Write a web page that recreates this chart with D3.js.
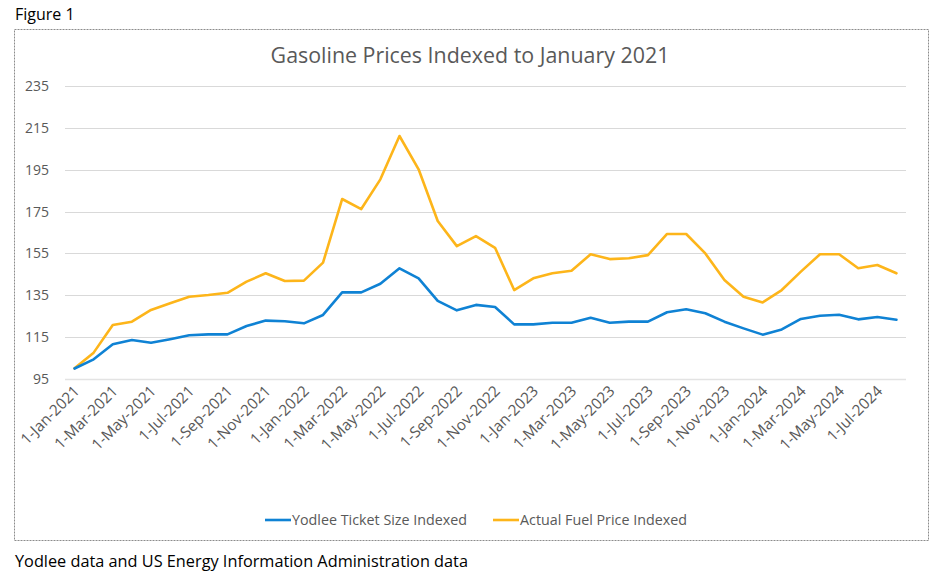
<!DOCTYPE html>
<html><head><meta charset="utf-8">
<script src="https://cdn.jsdelivr.net/npm/d3@7"></script>
<style>
body{margin:0;background:#fff;}
svg text{font-family:"Open Sans","Noto Sans",sans-serif;}
</style></head>
<body><svg id="c" width="942" height="577"></svg>
<script>
const months = ["1-Jan-2021","1-Feb-2021","1-Mar-2021","1-Apr-2021","1-May-2021","1-Jun-2021","1-Jul-2021","1-Aug-2021","1-Sep-2021","1-Oct-2021","1-Nov-2021","1-Dec-2021",
"1-Jan-2022","1-Feb-2022","1-Mar-2022","1-Apr-2022","1-May-2022","1-Jun-2022","1-Jul-2022","1-Aug-2022","1-Sep-2022","1-Oct-2022","1-Nov-2022","1-Dec-2022",
"1-Jan-2023","1-Feb-2023","1-Mar-2023","1-Apr-2023","1-May-2023","1-Jun-2023","1-Jul-2023","1-Aug-2023","1-Sep-2023","1-Oct-2023","1-Nov-2023","1-Dec-2023",
"1-Jan-2024","1-Feb-2024","1-Mar-2024","1-Apr-2024","1-May-2024","1-Jun-2024","1-Jul-2024","1-Aug-2024"];
const yodlee = [100,104.4,111.6,113.6,112.3,114,115.9,116.3,116.3,120.3,122.9,122.6,
121.6,125.6,136.4,136.4,140.5,147.9,143.1,132.3,127.8,130.4,129.4,121.1,
121.1,121.9,121.9,124.3,121.9,122.4,122.4,126.9,128.3,126.4,122.4,119.2,
116.2,118.7,123.7,125.2,125.7,123.5,124.6,123.3];
const fuel = [100.1,107.6,120.8,122.4,128,131.2,134.3,135.1,136.2,141.5,145.5,141.8,
142,150.6,181,176.2,190.4,211.1,195.2,170.5,158.5,163.3,157.7,137.5,
143.1,145.5,146.7,154.6,152.3,152.7,154.2,164.3,164.3,155,142.3,134.3,
131.6,137.5,146.3,154.6,154.6,147.9,149.5,145.5];
const yTicks = [95,115,135,155,175,195,215,235];
const seriesNames = ["Yodlee Ticket Size Indexed","Actual Fuel Price Indexed"];
const colors = ["#0F82D4","#FDB51A"];

const svg = d3.select("#c");
const grey = "#595959";

svg.append("text").attr("x",15).attr("y",20).attr("font-size",16).attr("fill","#000").text("Figure 1");
svg.append("rect").attr("x",14.5).attr("y",29.5).attr("width",914).attr("height",511)
  .attr("fill","none").attr("stroke","#8c8c8c").attr("stroke-dasharray","2,1").attr("stroke-width",1);
svg.append("text").attr("x",470).attr("y",63).attr("text-anchor","middle").attr("font-size",21.4).attr("fill",grey)
  .text("Gasoline Prices Indexed to January 2021");

const x = d3.scaleBand().domain(months).range([65,906]);
const y = d3.scaleLinear().domain([95,235]).range([379,86]);
const cx = m => x(m) + x.bandwidth()/2;

svg.append("g").selectAll("line").data(yTicks).join("line")
  .attr("x1",65).attr("x2",906).attr("y1",d=>Math.round(y(d))+0.5).attr("y2",d=>Math.round(y(d))+0.5)
  .attr("stroke",(d,i)=>i===0?"#e3e3e3":"#d9d9d9").attr("stroke-width",d=>d===95?1.5:1);

const yAxis = d3.axisLeft(y).tickValues(yTicks).tickSize(0).tickPadding(0);
const ga = svg.append("g").attr("transform","translate(49,0)").call(yAxis);
ga.select(".domain").remove();
ga.selectAll("text").attr("font-size",14).attr("fill",grey).attr("font-family","Open Sans");

const xAxis = d3.axisBottom(x).tickValues(months.filter((m,i)=>i%2===0)).tickSize(0);
const gx = svg.append("g").attr("transform","translate(0,386)").call(xAxis);
gx.select(".domain").remove();
gx.selectAll("text").attr("font-size",15.3).attr("fill",grey).attr("font-family","Open Sans")
  .attr("text-anchor","end").attr("dy",0).attr("y",0)
  .attr("transform","translate(6,6) rotate(-45)");

const line = d3.line().x((d,i)=>cx(months[i])).y(d=>y(d));
[fuel,yodlee].forEach((s,k)=>{
  svg.append("path").datum(s).attr("d",line).attr("fill","none")
    .attr("stroke",k===0?colors[1]:colors[0]).attr("stroke-width",2.6).attr("stroke-linejoin","round").attr("stroke-linecap","round");
});

const leg = [{x:265,c:colors[0],t:seriesNames[0]},{x:493,c:colors[1],t:seriesNames[1]}];
leg.forEach(l=>{
  svg.append("line").attr("x1",l.x).attr("x2",l.x+26).attr("y1",520).attr("y2",520).attr("stroke",l.c).attr("stroke-width",2.6);
  svg.append("text").attr("x",l.x+27).attr("y",525).attr("font-size",14.3).attr("fill",grey).text(l.t);
});

svg.append("text").attr("x",15).attr("y",567).attr("font-size",16.3).attr("fill","#000")
  .text("Yodlee data and US Energy Information Administration data");
</script></body></html>
